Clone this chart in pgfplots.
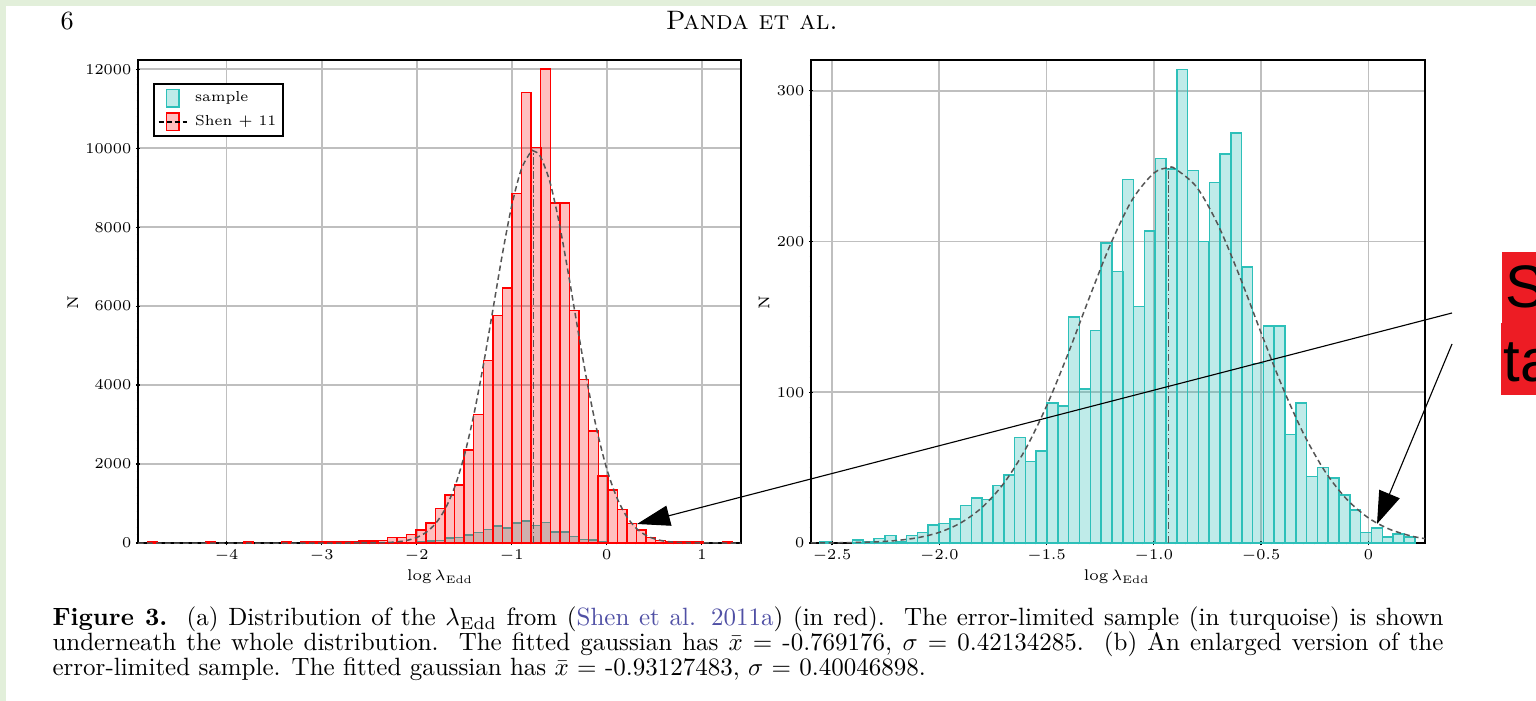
\documentclass[border=0pt]{standalone}
\usepackage{fontspec}
\usepackage{graphicx}
\usepackage{pgfplots}
\pgfplotsset{compat=1.18}
\usetikzlibrary{arrows.meta}
\newfontfamily\arialfont{Liberation Sans}
\definecolor{pagegreen}{RGB}{226,239,218}
\definecolor{turq}{RGB}{45,192,185}
\definecolor{boxred}{RGB}{237,28,36}
\definecolor{citeblue}{RGB}{80,80,165}
\definecolor{fitgray}{RGB}{85,85,85}

\pgfplotsset{
  histaxis/.style={
    scale only axis,
    axis line style={line width=0.8pt},
    grid=major,
    major grid style={gray!50, line width=0.7pt},
    tick align=center,
    major tick length=1.8pt,
    minor tick length=1.1pt,
    every tick/.append style={black, line width=0.5pt},
    xtick pos=left, ytick pos=left,
    minor x tick num=9, minor y tick num=9,
    ticklabel style={font=\fontsize{5.8}{7}\selectfont},
    yticklabel style={inner sep=1.6pt},
    xticklabel style={inner sep=1.6pt},
    label style={font=\fontsize{6.2}{7}\selectfont},
    scaled ticks=false,
    /pgf/number format/1000 sep={},
  },
  redbar/.style={ybar, bar shift=0pt, bar width=0.1008, draw=red, fill=red,
    fill opacity=0.25, line width=0.6pt, forget plot},
  turqbar/.style={ybar, bar shift=0pt, draw=turq, fill=turq,
    fill opacity=0.3, line width=0.6pt, forget plot},
  fitline/.style={fitgray, line width=0.6pt, dash pattern=on 2.2pt off 1.4pt, smooth, forget plot},
  meanline/.style={fitgray, line width=0.6pt, dash pattern=on 3pt off 1pt on 0.6pt off 1pt, forget plot},
}

\begin{document}
\begin{tikzpicture}
\useasboundingbox (0pt,0pt) rectangle (614.4pt,-280.4pt);
\clip (0pt,0pt) rectangle (614.4pt,-280.4pt);

% page background and running head
\begin{scope}[x=0.4pt,y=-0.4pt]
\fill[pagegreen] (0,0) rectangle (1536,701);
\fill[white] (6,6) rectangle (1536,701);
\node[anchor=base west, inner sep=0pt, font=\fontsize{10.5}{12}\selectfont] at (60,30) {6};
\node[anchor=base, inner sep=0pt] at (752,30) {\resizebox{68.8pt}{!}{\fontsize{10}{12}\selectfont\textsc{Panda et al.}}};
\end{scope}

% (a) whole distribution with the error-limited sample underneath
\begin{axis}[histaxis,
  at={(55.2pt,-217.2pt)}, anchor=south west,
  width=241.2pt, height=193.2pt,
  xmin=-4.932, xmax=1.412, ymin=0, ymax=12236,
  xtick={-4,-3,-2,-1,0,1},
  ytick={0,2000,4000,6000,8000,10000,12000},
  xlabel={$\log\lambda_{\mathrm{Edd}}$},
  ylabel={N},
  xlabel style={at={(axis description cs:0.501,-0.070)}, anchor=center},
  ylabel style={at={(axis description cs:-0.108,0.497)}, anchor=center},
  legend style={at={(0.0249,0.952)}, anchor=north west, draw=black,
    line width=0.8pt, fill=white, font=\fontsize{5.8}{6.5}\selectfont,
    inner xsep=1.5pt, inner ysep=1.6pt, row sep=1.6pt,
    nodes={inner sep=1.2pt}},
  legend cell align=left,
]
\addplot[turqbar, bar width=0.1008] coordinates {
(-2.560,1) (-2.358,3) (-2.257,8) (-2.157,6) (-2.056,19) (-1.955,29)
(-1.854,55) (-1.753,67) (-1.653,125) (-1.552,140) (-1.451,200) (-1.350,265)
(-1.249,345) (-1.149,435) (-1.048,375) (-0.947,510) (-0.846,560) (-0.745,445)
(-0.645,525) (-0.544,285) (-0.443,275) (-0.342,160) (-0.241,90) (-0.140,72)
(-0.040,29) (0.061,14) (0.162,10)
};
\addplot[redbar] coordinates {
(-4.778,30) (-4.173,25) (-3.770,25) (-3.366,30)
(-3.165,20) (-3.064,25) (-2.963,25) (-2.862,30) (-2.762,35) (-2.661,40)
(-2.560,45) (-2.459,55) (-2.358,60) (-2.257,140) (-2.157,140) (-2.056,210)
(-1.955,330) (-1.854,505) (-1.753,871) (-1.653,1219) (-1.552,1468) (-1.451,2357)
(-1.350,3250) (-1.249,4620) (-1.149,5763) (-1.048,6466) (-0.947,8852) (-0.846,11416)
(-0.745,10020) (-0.645,12008) (-0.544,8614) (-0.443,8614) (-0.342,5890) (-0.241,4138)
(-0.140,2843) (-0.040,1701) (0.061,1345) (0.162,855) (0.263,500) (0.363,330)
(0.464,135) (0.565,68) (0.666,40) (0.767,30) (0.867,25) (0.968,25) (1.271,20)
};
% fitted gaussian: mean -0.769176, sigma 0.42134285
\addplot[fitline] coordinates {
(-4.932,0) (-2.8,0.1) (-2.6,0.8) (-2.5,2.2) (-2.4,5.5) (-2.3,13.5) (-2.2,31.1)
(-2.1,67.7) (-2.0,139.3) (-1.9,271) (-1.8,498) (-1.7,865.5) (-1.6,1421)
(-1.5,2206) (-1.4,3238) (-1.3,4490) (-1.2,5888) (-1.1,7297) (-1.0,8547)
(-0.9,9463) (-0.8,9903) (-0.769,9930) (-0.7,9797) (-0.6,9160) (-0.5,8097)
(-0.4,6764) (-0.3,5341) (-0.2,3987) (-0.1,2813) (0.0,1876) (0.1,1183)
(0.2,704.5) (0.3,396.8) (0.4,211.3) (0.5,106.3) (0.6,50.6) (0.7,22.7)
(0.8,9.7) (0.9,3.9) (1.0,1.5) (1.2,0.2) (1.412,0)
};
\addplot[meanline] coordinates {(-0.769176,0) (-0.769176,9930)};
\addlegendimage{legend image code/.code={
  \draw[draw=turq, fill=turq, fill opacity=0.3, line width=0.6pt] (3.2pt,-3.5pt) rectangle (8.2pt,3.5pt);
  \path[draw=none, fill=none] (0pt,0pt) -- (13.4pt,0pt);}}
\addlegendentry{sample}
\addlegendimage{legend image code/.code={
  \draw[draw=red, fill=red, fill opacity=0.25, line width=0.6pt] (3.2pt,-3.5pt) rectangle (8.2pt,3.5pt);
  \draw[black, line width=0.7pt, dash pattern=on 2pt off 1.2pt] (0pt,0pt) -- (11.4pt,0pt);
  \path[draw=none, fill=none] (0pt,0pt) -- (13.4pt,0pt);}}
\addlegendentry{Shen $+$ 11}
\end{axis}

% (b) enlarged error-limited sample
\begin{axis}[histaxis,
  at={(324.4pt,-217.2pt)}, anchor=south west,
  width=245.6pt, height=193.2pt,
  xmin=-2.598, xmax=0.264, ymin=0, ymax=320.4,
  xtick={-2.5,-2.0,-1.5,-1.0,-0.5,0},
  xticklabels={$-2.5$,$-2.0$,$-1.5$,$-1.0$,$-0.5$,$0$},
  ytick={0,100,200,300},
  xlabel={$\log\lambda_{\mathrm{Edd}}$},
  ylabel={N},
  xlabel style={at={(axis description cs:0.498,-0.070)}, anchor=center},
  ylabel style={at={(axis description cs:-0.0765,0.497)}, anchor=center},
]
\addplot[turqbar, bar width=0.0504] coordinates {
(-2.531,1) (-2.380,2) (-2.329,1) (-2.279,3) (-2.228,5) (-2.178,1) (-2.128,5)
(-2.077,7) (-2.027,12) (-1.976,13) (-1.926,16) (-1.876,25) (-1.825,30)
(-1.775,29) (-1.724,38) (-1.674,45) (-1.624,70) (-1.573,54) (-1.523,61)
(-1.472,93) (-1.422,91) (-1.372,150) (-1.321,102) (-1.271,141) (-1.220,199)
(-1.170,180) (-1.120,241) (-1.069,157) (-1.019,207) (-0.968,255) (-0.918,248)
(-0.868,314) (-0.817,247) (-0.767,200) (-0.716,239) (-0.666,258) (-0.616,272)
(-0.565,183) (-0.515,119) (-0.464,144) (-0.414,144) (-0.364,72) (-0.313,93)
(-0.263,44) (-0.212,50) (-0.162,43) (-0.112,32) (-0.061,22) (-0.011,7)
(0.040,10) (0.090,4) (0.141,6) (0.191,4)
};
% fitted gaussian: mean -0.93127483, sigma 0.40046898
\addplot[fitline] coordinates {
(-2.6,0.04) (-2.5,0.12) (-2.4,0.30) (-2.3,0.72) (-2.2,1.65) (-2.1,3.53)
(-2.0,7.08) (-1.9,13.36) (-1.8,23.69) (-1.7,39.46) (-1.6,61.78) (-1.5,90.86)
(-1.4,125.5) (-1.3,163.0) (-1.2,198.8) (-1.1,227.9) (-1.0,245.4) (-0.931,249)
(-0.9,248.2) (-0.8,236.0) (-0.7,210.8) (-0.6,176.9) (-0.5,139.4) (-0.4,103.3)
(-0.3,71.88) (-0.2,47.01) (-0.1,28.89) (0.0,16.67) (0.1,9.04) (0.2,4.61) (0.264,2.90)
};
\addplot[meanline] coordinates {(-0.93127483,0) (-0.93127483,249)};
\end{axis}

% call-out arrows and the highlighted note
\begin{scope}[x=0.4pt,y=-0.4pt]
\draw[line width=0.45pt, -{Triangle[length=13.2pt,width=8.2pt]}] (1452,313) -- (637,524);
\draw[line width=0.45pt, -{Triangle[length=13pt,width=8.8pt]}] (1452,344) -- (1377,524);
\fill[boxred] (1501.7,252) rectangle (1540,323.5);
\fill[boxred] (1501,323) rectangle (1540,395);
\node[anchor=base west, inner sep=0pt, font=\arialfont\fontsize{24}{26}\selectfont] at (1505,308) {S};
\node[anchor=base west, inner sep=0pt, font=\arialfont\fontsize{24}{26}\selectfont] at (1503,382) {ta};

% caption
\node[anchor=base west, inner sep=0pt, font=\fontsize{10}{12}\selectfont] at (52,626)
  {\makebox[556.4pt][s]{\textbf{Figure 3.}\ \ (a) Distribution of the $\lambda_{\mathrm{Edd}}$ from ({\color{citeblue}Shen et al. 2011a}) (in red).\ \ The error-limited sample (in turquoise) is shown}};
\node[anchor=base west, inner sep=0pt, font=\fontsize{10}{12}\selectfont] at (52,651)
  {\makebox[556.4pt][s]{underneath the whole distribution.\ \ The fitted gaussian has $\bar{x}$ = -0.769176, $\sigma$ = 0.42134285.\ \ (b) An enlarged version of the}};
\node[anchor=base west, inner sep=0pt, font=\fontsize{10}{12}\selectfont] at (52,676)
  {error-limited sample. The fitted gaussian has $\bar{x}$ = -0.93127483, $\sigma$ = 0.40046898.};
\end{scope}
\end{tikzpicture}
\end{document}
